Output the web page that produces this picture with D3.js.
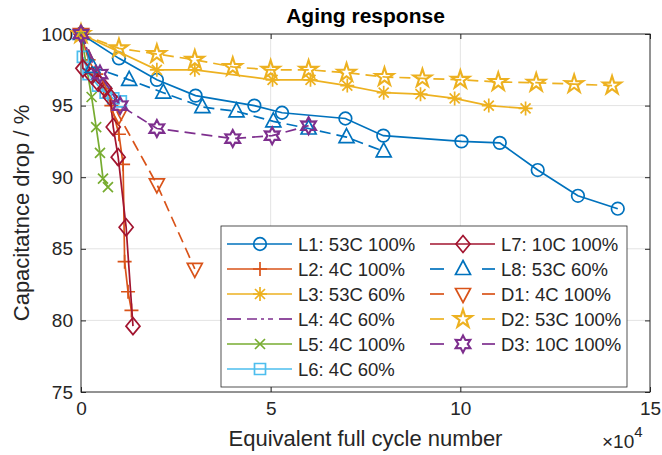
<!DOCTYPE html>
<html>
<head>
  <meta charset="utf-8">
  <title>Aging response</title>
  <style>
    body { margin: 0; background: #fff; }
    text { font-family: "Liberation Sans", Arial, sans-serif; fill: #262626; }
  </style>
</head>
<body>
  <svg width="662" height="455"></svg>
  <script src="https://cdn.jsdelivr.net/npm/d3@7"></script>
  <script>
  // data (x in 1e4 cycles, y in %)
  var xL1 = [0, 1, 2, 3.02, 4.57, 5.3, 6.97, 7.97, 10.03, 11.04, 12.04, 13.1, 14.15];
  var yL1 = [100, 98.3, 96.8, 95.7, 95.0, 94.5, 94.1, 92.9, 92.5, 92.4, 90.5, 88.7, 87.8];
  var xL2 = [0, 0.2, 0.4, 0.6, 0.8, 1.0, 1.11, 1.15, 1.24, 1.33];
  var yL2 = [100, 98.2, 97.2, 96.2, 95.0, 93.0, 90.9, 84.1, 82.0, 80.7];
  var xL3 = [0, 2, 3, 5.05, 6.05, 7.02, 7.98, 8.95, 9.85, 10.75, 11.72];
  var yL3 = [100, 97.5, 97.5, 96.8, 96.8, 96.4, 95.9, 95.8, 95.5, 95.0, 94.8];
  var xL4 = [0, 0.3, 0.6, 0.9, 1.1];
  var yL4 = [100, 98.0, 96.7, 95.6, 94.8];
  var xL5 = [0, 0.28, 0.4, 0.5, 0.58, 0.71];
  var yL5 = [100, 95.6, 93.5, 91.7, 89.9, 89.3];
  var xL6 = [0.05, 0.2, 0.45, 0.65, 0.85, 1.05];
  var yL6 = [98.4, 97.2, 96.4, 95.9, 95.5, 95.3];
  var xL7 = [0, 0.05, 0.29, 0.45, 0.63, 0.77, 0.85, 0.98, 1.19, 1.37];
  var yL7 = [100, 97.6, 97.1, 96.6, 96.2, 95.6, 93.5, 91.4, 86.5, 79.6];
  var xL8 = [0, 0.3, 1.27, 2.17, 3.2, 4.1, 5.07, 6.0, 7.0, 7.98];
  var yL8 = [100, 97.7, 96.8, 95.9, 94.9, 94.6, 93.9, 93.4, 92.8, 91.8];
  var xD1 = [0, 1.0, 2.0, 3.0];
  var yD1 = [100, 94.3, 89.5, 83.6];
  var xD2 = [0, 1, 2, 3, 4, 5, 6, 7, 8, 9, 10, 11, 12, 13, 14];
  var yD2 = [100, 99.0, 98.6, 98.2, 97.7, 97.5, 97.5, 97.3, 97.0, 96.9, 96.8, 96.65, 96.6, 96.5, 96.4];
  var xD3 = [0, 0.5, 1.03, 2.0, 4.0, 5.04, 6.0];
  var yD3 = [100, 97.2, 95.0, 93.4, 92.7, 92.9, 93.6];

  var xTicks = [0, 5, 10, 15];
  var yTicks = [75, 80, 85, 90, 95, 100];

  var series = [
    {name: "L1: 53C 100%", x: xL1, y: yL1, color: "#0072BD", dash: null, marker: "circle"},
    {name: "L2: 4C 100%", x: xL2, y: yL2, color: "#D95319", dash: null, marker: "plus"},
    {name: "L3: 53C 60%", x: xL3, y: yL3, color: "#EDB120", dash: null, marker: "asterisk"},
    {name: "L4: 4C 60%", x: xL4, y: yL4, color: "#7E2F8E", dash: "10,4,3,4", marker: null},
    {name: "L5: 4C 100%", x: xL5, y: yL5, color: "#77AC30", dash: null, marker: "x"},
    {name: "L6: 4C 60%", x: xL6, y: yL6, color: "#4DBEEE", dash: null, marker: "square"},
    {name: "L7: 10C 100%", x: xL7, y: yL7, color: "#A2142F", dash: null, marker: "diamond"},
    {name: "L8: 53C 60%", x: xL8, y: yL8, color: "#0072BD", dash: "11,6", marker: "triup"},
    {name: "D1: 4C 100%", x: xD1, y: yD1, color: "#D95319", dash: "11,6", marker: "tridown"},
    {name: "D2: 53C 100%", x: xD2, y: yD2, color: "#EDB120", dash: "11,6", marker: "pentagram"},
    {name: "D3: 10C 100%", x: xD3, y: yD3, color: "#7E2F8E", dash: "11,6", marker: "hexagram"}
  ];

  var svg = d3.select("svg");
  var pL = 81, pR = 650, pT = 34, pB = 392;

  var x = d3.scaleLinear().domain([0, 15]).range([pL, pR]);
  var y = d3.scaleLinear().domain([75, 100]).range([pB, pT]);

  // star shaped outline
  function starPath(n, ro, ri) {
    var p = [];
    for (var i = 0; i < 2 * n; i++) {
      var r = i % 2 === 0 ? ro : ri;
      var a = -Math.PI / 2 + i * Math.PI / n;
      p.push([r * Math.cos(a), r * Math.sin(a)]);
    }
    return "M" + p.map(function(d) { return d[0].toFixed(2) + "," + d[1].toFixed(2); }).join("L") + "Z";
  }

  function markerPath(type) {
    switch (type) {
      case "circle": return d3.symbol().type(d3.symbolCircle).size(Math.PI * 6.3 * 6.3)();
      case "plus": return "M-7,0H7M0,-7V7";
      case "asterisk": return "M-7,0H7M0,-7V7M-5,-5L5,5M-5,5L5,-5";
      case "x": return "M-5,-5L5,5M-5,5L5,-5";
      case "square": return "M-5.5,-5.5H5.5V5.5H-5.5Z";
      case "diamond": return "M0,-8.5L7,0L0,8.5L-7,0Z";
      case "triup": return "M0,-8.5L7.5,5.5L-7.5,5.5Z";
      case "tridown": return "M0,8.5L7.5,-5.5L-7.5,-5.5Z";
      case "pentagram": return starPath(5, 9.5, 3.6);
      case "hexagram": return starPath(6, 8.5, 4.7);
    }
    return null;
  }

  function markerWidth(type) {
    return (type === "pentagram" || type === "hexagram") ? 2.1 : 1.7;
  }

  // grid
  svg.append("g")
    .selectAll("line")
    .data(xTicks.slice(1, -1))
    .enter()
    .append("line")
    .attr("x1", function(d) { return x(d); })
    .attr("x2", function(d) { return x(d); })
    .attr("y1", pT)
    .attr("y2", pB)
    .attr("stroke", "#e3e3e3")
    .attr("stroke-width", 1);

  svg.append("g")
    .selectAll("line")
    .data(yTicks.slice(1, -1))
    .enter()
    .append("line")
    .attr("x1", pL)
    .attr("x2", pR)
    .attr("y1", function(d) { return y(d); })
    .attr("y2", function(d) { return y(d); })
    .attr("stroke", "#e3e3e3")
    .attr("stroke-width", 1);

  // axes (ticks inside like matlab)
  function styleAxis(g) {
    g.select(".domain").remove();
    g.selectAll(".tick line").attr("stroke", "#262626");
    g.selectAll(".tick text")
      .style("font-family", "'Liberation Sans', Arial, sans-serif")
      .style("font-size", "19px")
      .attr("fill", "#262626");
  }

  svg.append("g")
    .attr("transform", "translate(0," + pB + ")")
    .call(d3.axisBottom(x).tickValues(xTicks).tickSizeInner(-5).tickSizeOuter(0).tickPadding(10))
    .call(styleAxis);

  svg.append("g")
    .attr("transform", "translate(0," + pT + ")")
    .call(d3.axisTop(x).tickValues(xTicks).tickSizeInner(-5).tickSizeOuter(0).tickFormat(""))
    .call(styleAxis);

  svg.append("g")
    .attr("transform", "translate(" + pL + ",0)")
    .call(d3.axisLeft(y).tickValues(yTicks).tickSizeInner(-5).tickSizeOuter(0).tickPadding(8))
    .call(styleAxis);

  svg.append("g")
    .attr("transform", "translate(" + pR + ",0)")
    .call(d3.axisRight(y).tickValues(yTicks).tickSizeInner(-5).tickSizeOuter(0).tickFormat(""))
    .call(styleAxis);

  svg.append("rect")
    .attr("x", pL)
    .attr("y", pT)
    .attr("width", pR - pL)
    .attr("height", pB - pT)
    .attr("fill", "none")
    .attr("stroke", "#262626")
    .attr("stroke-width", 1);

  // series
  var line = d3.line()
    .x(function(d) { return x(d[0]); })
    .y(function(d) { return y(d[1]); });

  series.forEach(function(s) {
    var pts = s.x.map(function(v, i) { return [v, s.y[i]]; });
    var g = svg.append("g");
    g.append("path")
      .datum(pts)
      .attr("d", line)
      .attr("fill", "none")
      .attr("stroke", s.color)
      .attr("stroke-width", 1.7)
      .attr("stroke-dasharray", s.dash);
    if (s.marker) {
      g.selectAll("path.m")
        .data(pts)
        .enter()
        .append("path")
        .attr("class", "m")
        .attr("transform", function(d) { return "translate(" + x(d[0]) + "," + y(d[1]) + ")"; })
        .attr("d", markerPath(s.marker))
        .attr("fill", "none")
        .attr("stroke", s.color)
        .attr("stroke-width", markerWidth(s.marker));
    }
  });

  // legend
  var leg = svg.append("g");
  leg.append("rect")
    .attr("x", 221)
    .attr("y", 226)
    .attr("width", 406)
    .attr("height", 161)
    .attr("fill", "#fff")
    .attr("stroke", "#262626")
    .attr("stroke-width", 0.8);

  var item = leg.selectAll("g.item")
    .data(series)
    .enter()
    .append("g")
    .attr("transform", function(d, i) {
      var col = i < 6 ? 0 : 1;
      var row = i < 6 ? i : i - 6;
      return "translate(" + (col === 0 ? 227 : 430) + "," + (244 + row * 25) + ")";
    });

  item.each(function(s) {
    var g = d3.select(this);
    if (s.dash) {
      g.append("line").attr("x1", 0).attr("x2", 14).attr("y1", 0).attr("y2", 0)
        .attr("stroke", s.color).attr("stroke-width", 1.7);
      g.append("line").attr("x1", 52).attr("x2", 65).attr("y1", 0).attr("y2", 0)
        .attr("stroke", s.color).attr("stroke-width", 1.7);
      if (!s.marker) {
        g.append("line").attr("x1", 20).attr("x2", 46).attr("y1", 0).attr("y2", 0)
          .attr("stroke", s.color).attr("stroke-width", 1.7).attr("stroke-dasharray", s.dash);
      }
    } else {
      g.append("line").attr("x1", 0).attr("x2", 65).attr("y1", 0).attr("y2", 0)
        .attr("stroke", s.color).attr("stroke-width", 1.7);
    }
    if (s.marker) {
      g.append("path")
        .attr("transform", "translate(33,0)")
        .attr("d", markerPath(s.marker))
        .attr("fill", "none")
        .attr("stroke", s.color)
        .attr("stroke-width", markerWidth(s.marker));
    }
    g.append("text")
      .attr("x", 71)
      .attr("y", 6.5)
      .style("font-size", "18.5px")
      .text(s.name);
  });

  // titles
  svg.append("text")
    .attr("x", (pL + pR) / 2)
    .attr("y", 23)
    .attr("text-anchor", "middle")
    .style("font-size", "21px")
    .style("font-weight", "bold")
    .style("fill", "#000")
    .text("Aging response");

  svg.append("text")
    .attr("x", (pL + pR) / 2)
    .attr("y", 446)
    .attr("text-anchor", "middle")
    .style("font-size", "22px")
    .text("Equivalent full cycle number");

  svg.append("text")
    .attr("transform", "translate(29," + ((pT + pB) / 2) + ") rotate(-90)")
    .attr("text-anchor", "middle")
    .style("font-size", "22px")
    .text("Capacitatnce drop / %");

  var expo = svg.append("text")
    .attr("x", 602)
    .attr("y", 448)
    .style("font-size", "19px");
  expo.append("tspan").text("\u00d710");
  expo.append("tspan").attr("dy", -11).style("font-size", "15px").text("4");
  </script>
</body>
</html>
